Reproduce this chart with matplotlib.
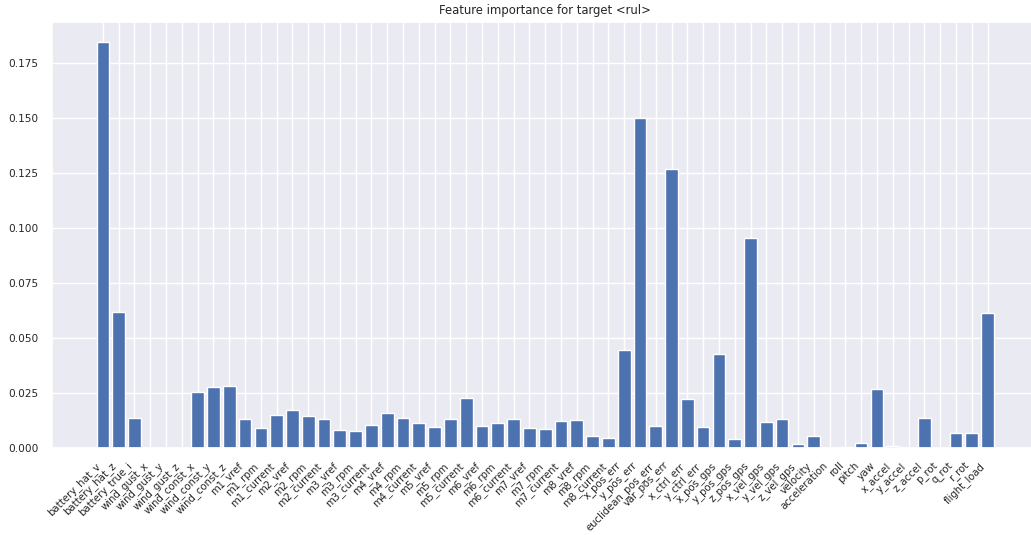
import matplotlib
matplotlib.use("Agg")
import matplotlib.pyplot as plt
import seaborn as sns

features = [
    "battery_hat_v", "battery_hat_z", "battery_true_i",
    "wind_gust_x", "wind_gust_y", "wind_gust_z",
    "wind_const_x", "wind_const_y", "wind_const_z",
    "m1_vref", "m1_rpm", "m1_current",
    "m2_vref", "m2_rpm", "m2_current",
    "m3_vref", "m3_rpm", "m3_current",
    "m4_vref", "m4_rpm", "m4_current",
    "m5_vref", "m5_rpm", "m5_current",
    "m6_vref", "m6_rpm", "m6_current",
    "m7_vref", "m7_rpm", "m7_current",
    "m8_vref", "m8_rpm", "m8_current",
    "x_pos_err", "y_pos_err", "euclidean_pos_err", "var_pos_err",
    "x_ctrl_err", "y_ctrl_err",
    "x_pos_gps", "y_pos_gps", "z_pos_gps",
    "x_vel_gps", "y_vel_gps", "z_vel_gps",
    "velocity", "acceleration",
    "roll", "pitch", "yaw",
    "x_accel", "y_accel", "z_accel",
    "p_rot", "q_rot", "r_rot",
    "flight_load",
]

importance = [
    0.1844, 0.0620, 0.0138,
    0.0, 0.0, 0.0,
    0.0255, 0.0276, 0.0280,
    0.0133, 0.0092, 0.0151,
    0.0173, 0.0147, 0.0133,
    0.0083, 0.0079, 0.0105,
    0.0159, 0.0138, 0.0114,
    0.0095, 0.0133, 0.0227,
    0.0100, 0.0114, 0.0133,
    0.0092, 0.0088, 0.0124,
    0.0129, 0.0053, 0.0045,
    0.0444, 0.1501, 0.0100, 0.1267,
    0.0224, 0.0094,
    0.0429, 0.0040, 0.0955,
    0.0117, 0.0133, 0.0017,
    0.0056, 0.0,
    0.0005, 0.0021, 0.0267,
    0.0008, 0.0, 0.0138,
    0.0, 0.0070, 0.0070,
    0.0615,
]

title = "Feature importance for target <rul>"

sns.set_theme(style="darkgrid")
plt.rcParams["font.family"] = ["DejaVu Sans"]

fig = plt.figure(figsize=(10.31, 5.35), dpi=100)
ax = fig.add_axes([0.0501, 0.1626, 0.9574, 0.7963])

x = list(range(len(features)))
ax.bar(x, importance, color="#4c72b0")
ax.set_xticks(x)
ax.set_xticklabels(features, rotation=45, ha="right", fontsize=7.3)
ax.tick_params(axis="x", pad=3)
ax.tick_params(axis="y", labelsize=7.6)
ax.set_title(title, fontsize=8.4)

fig.savefig("out.png", dpi=100)
